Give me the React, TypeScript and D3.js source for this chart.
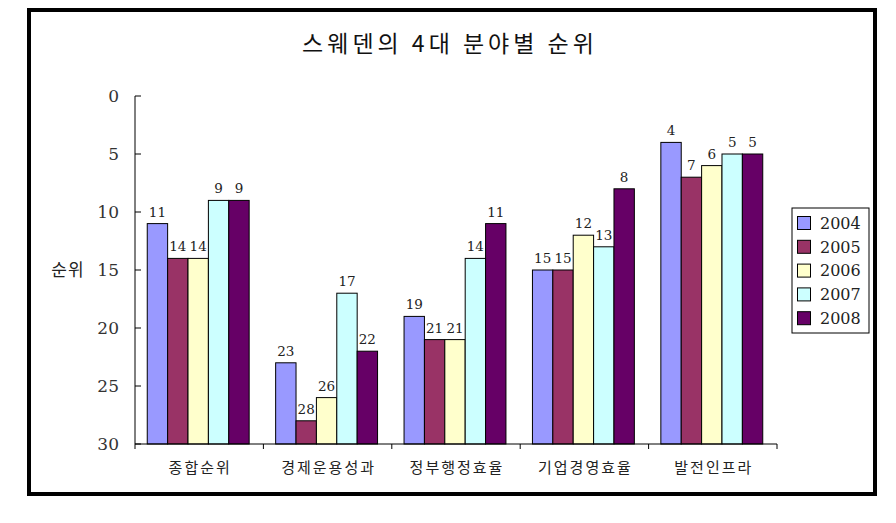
import React, { useEffect, useRef } from 'react'
import * as d3 from 'd3'

const categories = ['종합순위', '경제운용성과', '정부행정효율', '기업경영효율', '발전인프라']
const years = ['2004', '2005', '2006', '2007', '2008']
const ranks: number[][] = [
    [11, 14, 14, 9, 9],
    [23, 28, 26, 17, 22],
    [19, 21, 21, 14, 11],
    [15, 15, 12, 13, 8],
    [4, 7, 6, 5, 5],
]
const yTicks = [0, 5, 10, 15, 20, 25, 30]
const colors = ['#9999FF', '#993366', '#FFFFCC', '#CCFFFF', '#660066']

const W = 896
const H = 523
const NUM_FONT = '"DejaVu Serif", "Liberation Serif", serif'
const KR_FONT = '"Noto Sans CJK KR", "Noto Sans", sans-serif'

export default function App() {
    const svgRef = useRef<SVGSVGElement>(null)

    useEffect(() => {
        document.body.style.margin = '0'
        if (!svgRef.current) return
        const svg = d3.select(svgRef.current)
        svg.selectAll('*').remove()

        svg.append('rect').attr('width', W).attr('height', H).attr('fill', '#fff')

        // outer frame
        svg.append('rect')
            .attr('x', 29).attr('y', 10).attr('width', 846).attr('height', 484)
            .attr('fill', 'none').attr('stroke', '#000').attr('stroke-width', 4)

        svg.append('text')
            .attr('x', 450).attr('y', 52)
            .attr('text-anchor', 'middle')
            .style('font-family', KR_FONT)
            .style('font-size', '23px')
            .style('letter-spacing', '4px')
            .attr('fill', '#111')
            .text('스웨덴의 4대 분야별 순위')

        const left = 135, right = 777, top = 96, bottom = 444

        const x0 = d3.scaleBand<string>().domain(categories).range([left, right]).padding(0)
        const x1 = d3.scaleBand<string>().domain(years).range([0, x0.bandwidth()])
            .paddingInner(0).paddingOuter(0.65)
        const y = d3.scaleLinear().domain([0, 30]).range([top, bottom])

        const g = svg.append('g')

        // bars
        categories.forEach((cat, ci) => {
            const cg = g.append('g').attr('transform', `translate(${x0(cat)! - 1},0)`)
            cg.selectAll('rect')
                .data(ranks[ci])
                .enter().append('rect')
                .attr('x', (_, i) => x1(years[i])!)
                .attr('y', d => y(d))
                .attr('width', x1.bandwidth())
                .attr('height', d => y(30) - y(d))
                .attr('fill', (_, i) => colors[i])
                .attr('stroke', '#000')
                .attr('stroke-width', 1)
            cg.selectAll('text')
                .data(ranks[ci])
                .enter().append('text')
                .attr('x', (_, i) => x1(years[i])! + x1.bandwidth() / 2)
                .attr('y', d => y(d) - 7)
                .attr('text-anchor', 'middle')
                .style('font-family', NUM_FONT)
                .style('font-size', '13.5px')
                .attr('fill', '#222')
                .text(d => d)
        })

        // y axis
        const ya = svg.append('g')
        ya.append('line').attr('x1', left).attr('x2', left).attr('y1', top).attr('y2', bottom)
            .attr('stroke', '#000')
        yTicks.forEach(t => {
            ya.append('line').attr('x1', left).attr('x2', left + 6)
                .attr('y1', y(t)).attr('y2', y(t)).attr('stroke', '#000')
            ya.append('text')
                .attr('x', 119).attr('y', y(t)).attr('dy', '0.36em')
                .attr('text-anchor', 'end')
                .style('font-family', NUM_FONT)
                .style('font-size', '17px')
                .attr('fill', '#333')
                .text(t)
        })
        svg.append('text')
            .attr('x', 68).attr('y', 270).attr('dy', '0.36em')
            .attr('text-anchor', 'middle')
            .style('font-family', KR_FONT)
            .style('font-size', '17px')
            .style('letter-spacing', '1px')
            .attr('fill', '#222')
            .text('순위')

        // x axis
        const xa = svg.append('g')
        xa.append('line').attr('x1', left).attr('x2', right).attr('y1', bottom).attr('y2', bottom)
            .attr('stroke', '#000')
        const bounds = categories.map(c => x0(c)!).concat([right])
        bounds.forEach(b => {
            xa.append('line').attr('x1', b).attr('x2', b).attr('y1', bottom).attr('y2', bottom + 5)
                .attr('stroke', '#000')
        })
        categories.forEach(c => {
            xa.append('text')
                .attr('x', x0(c)! + x0.bandwidth() / 2 + 1).attr('y', 473)
                .attr('text-anchor', 'middle')
                .style('font-family', KR_FONT)
                .style('font-size', '15px')
                .style('letter-spacing', '2px')
                .attr('fill', '#222')
                .text(c)
        })

        // legend
        const lg = svg.append('g')
        lg.append('rect').attr('x', 792).attr('y', 208).attr('width', 77).attr('height', 125)
            .attr('fill', '#fff').attr('stroke', '#000')
        years.forEach((yr, i) => {
            const cy = 223 + i * 23.8
            lg.append('rect').attr('x', 797.5).attr('y', cy - 6.5).attr('width', 13).attr('height', 13)
                .attr('fill', colors[i]).attr('stroke', '#000')
            lg.append('text').attr('x', 820).attr('y', cy).attr('dy', '0.36em')
                .style('font-family', NUM_FONT)
                .style('font-size', '16px')
                .attr('fill', '#222')
                .text(yr)
        })
    }, [])

    return <svg ref={svgRef} width={W} height={H} style={{ display: 'block' }} />
}
